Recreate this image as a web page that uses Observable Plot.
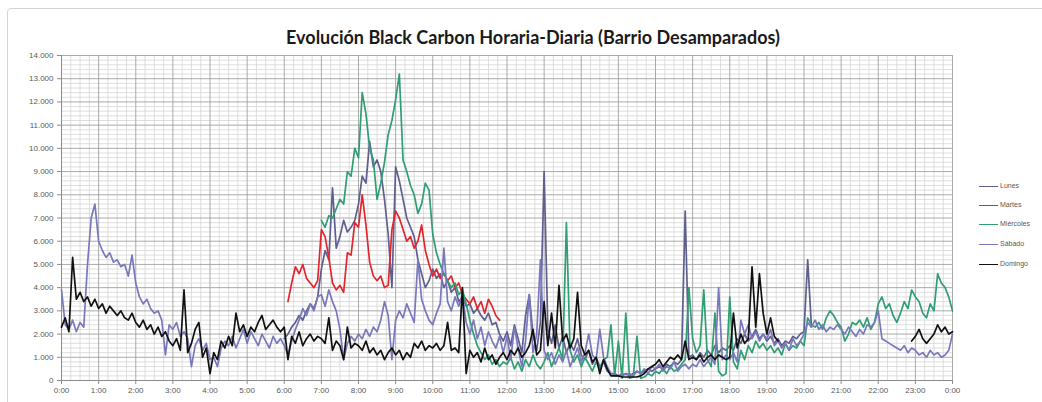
<!DOCTYPE html>
<html>
<head>
<meta charset="utf-8">
<script src="https://cdn.jsdelivr.net/npm/d3@7"></script>
<script src="https://cdn.jsdelivr.net/npm/@observablehq/plot@0.6"></script>
<style>
  html, body { margin: 0; padding: 0; background: #fff; }
  #wrap { position: relative; width: 1042px; height: 402px; overflow: hidden; background: #fff; }
  #frame { position: absolute; left: 7px; top: 8px; width: 1080px; height: 430px; border: 1px solid #d4d4d4; border-radius: 4px; box-sizing: border-box; }
  #title { position: absolute; left: 24px; top: 0; width: 1018px; height: 48px; text-align: center;
           font-family: Lato, "Open Sans", sans-serif; font-weight: 700; font-size: 18px; line-height: 22px;
           padding-top: 26px; box-sizing: border-box; color: #1a1a1a; }
  #chart { position: absolute; left: 0; top: 48px; }
  #legend { position: absolute; left: 979px; top: 0; font-family: "Liberation Sans", Arial, sans-serif; font-size: 7px; color: #595959; }
  .item { position: absolute; left: 0; white-space: nowrap; height: 10px; line-height: 10px; }
  .item span.sw { display: inline-block; width: 19px; height: 0; border-top: 1.5px solid; vertical-align: middle; margin-right: 2px; }
</style>
</head>
<body>
<div id="wrap">
  <div id="frame"></div>
  <div id="title">Evolución Black Carbon Horaria-Diaria (Barrio Desamparados)</div>
  <div id="chart"></div>
  <div id="legend"></div>
</div>
<script>
// ---- Data: Black Carbon readings, one value every 6 minutes (10 per hour) ----
const seriesNames = ["Lunes", "Martes", "Miércoles", "Sábado", "Domingo"];
const seriesColors = ["#5f5f8f", "#e3262e", "#2f9e72", "#7a78bd", "#111111"];
const stepHours = 0.1;

const lunesStart = 6.0;
const lunes = [
  1800, 2000, 2300, 2500, 2800, 2600, 3000, 3300, 3100, 3600,
  4800, 5600, 5200, 8300, 5700, 6200, 6900, 6400, 6600, 6900,
  7600, 8800, 8500, 10300, 9200, 9500, 9000, 7800, 6300, 4000,
  9200, 8600, 7800, 7000, 6600, 6200, 5200, 4600, 4000, 4300,
  4800, 4400, 4600, 4000, 4300, 3800, 4000, 3400, 3600, 3200,
  3300, 2900, 3100, 2800, 2600, 2900, 2400, 2500, 2000, 1700,
  2100, 1500, 2400, 1800, 1200, 2800, 3700, 2000, 1300, 2500,
  9000, 2200, 1600, 2400, 1400, 1900, 1200, 1600, 1300, 1800,
  1100, 900, 1300, 700, 1000, 600, 800, 400, 300, 300,
  200, 200, 300, 200, 300, 400, 300, 400, 500, 400,
  500, 600, 500, 700, 600, 800, 700, 900, 7300, 1000,
  1100, 900, 1200, 1000, 1300, 1100, 1500, 1200, 1400, 1300,
  1500, 1300, 1800, 1600, 2000, 1700, 1900, 2200, 1800, 2000,
  1700, 1900, 1600, 1800, 1500, 1700, 1600, 1900, 1800, 2000,
  2100, 5200, 2300
];

const martesStart = 6.1;
const martes = [
  3400, 4200, 4900, 4600, 5000, 4400, 4200, 4000, 4300,
  6500, 6200, 5300, 4200, 3900, 4100, 3800, 5500, 5400, 6800,
  6600, 8000, 6700, 5100, 4500, 4300, 4500, 4000, 4100, 6500,
  7300, 7000, 6500, 6000, 6200, 5700, 6000, 6700, 5600, 5000,
  4500, 4800, 4400, 4600, 4300, 4500, 4000, 4200, 3700, 3500,
  3300, 3600, 3100, 3400, 2900, 3500, 3200, 2800, 2600
];

const miercolesStart = 7.0;
const miercoles = [
  6900, 6600, 7100, 7000, 7400, 7800, 7600, 9000, 8800, 10000,
  9600, 12400, 11500, 10000, 9500, 7800, 8500, 9400, 10600, 11200,
  12100, 13200, 9500, 9000, 8400, 8000, 7200, 7600, 8500, 8200,
  6300, 5500, 5000, 4600, 4300, 4000, 4200, 3700, 3900, 3300,
  2600, 2000, 1500, 1200, 900, 1100, 700, 900, 600, 800,
  700, 1000, 500, 800, 400, 900, 600, 1100, 700, 500,
  800, 1200, 600, 1000, 1400, 900, 6800, 1300, 800, 1100,
  600, 1000, 700, 400, 800, 500, 900, 1000, 2400, 200,
  1700, 100, 2900, 100, 150, 1900, 100, 150, 300, 200,
  400, 300, 500, 300, 600, 400, 500, 700, 900, 4000,
  1800, 1200, 1500, 3900, 900, 600, 2900, 400, 200, 300,
  3600, 800, 500, 1300, 900, 1500, 1200, 1700, 1400, 1600,
  1300, 1500, 1200, 1400, 1100, 1600, 1300, 1500, 1400, 1700,
  1500, 2700, 2400, 2300, 2500, 2200, 2700, 3000, 2800, 2500,
  2300, 1700, 2000, 2500, 2400, 2600, 2300, 2700, 2200, 2500,
  3300, 3600, 3100, 3300, 2800, 2500, 2900, 3400, 3100, 3900,
  3600, 3400, 2900, 2700, 3300, 3000, 4600, 4200, 4000, 3600,
  3000
];

const sabadoStart = 0.0;
const sabado = [
  3900, 2400, 2200, 2600, 2100, 2500, 2300, 5000, 7000, 7600,
  6000, 5600, 5300, 5500, 5100, 5200, 4900, 5000, 4500, 5400,
  4200, 3600, 3300, 3500, 3100, 2900, 3000, 2600, 1100, 2400,
  2200, 2500, 1900, 2100, 1800, 600, 1500, 1800, 1300, 1600,
  900, 1000, 600, 1400, 1700, 1500, 1900, 1400, 1800, 2200,
  1600, 2100, 1800, 1500, 2000, 1700, 1400, 1900, 1600, 1800,
  1500, 1100, 1700, 2200, 2600, 3100, 2800, 3300, 3000, 3600,
  3700, 3200, 3900, 3400, 3000, 2200, 900, 1600, 1900, 1700,
  2000, 1800, 2200, 1900, 2300, 2100, 2600, 3400, 2800, 900,
  2600, 3000, 2700, 3300, 2900, 2500, 5200, 3500, 3000, 2600,
  2400, 2900, 3300, 5700, 3400, 3000, 3600, 3200, 3700, 2500,
  2000, 2600, 1800, 2300, 1500, 2100, 1700, 1400, 1900, 1200,
  1900, 900, 2300, 1400, 600, 1700, 3700, 1200, 2000, 5200,
  1300, 900, 1200, 700, 1100, 800, 1300, 600, 1000, 1400,
  800, 1200, 2000, 1100, 900, 2200, 1000, 600, 300, 200,
  200, 300, 250, 300, 200, 400, 300, 500, 300, 600,
  500, 700, 400, 600, 500, 800, 400, 600, 700, 500,
  700, 600, 900, 600, 800, 1000, 700, 4000, 900, 1100,
  900, 1200, 800, 2600, 2000, 2400, 1800, 2100, 1700, 2000,
  1800, 2200, 1500, 1700, 1400, 1600, 1300, 1800, 1500, 1700,
  2000, 2500, 2300, 2600, 2200, 2400, 2100, 2300, 2200, 2400,
  2200, 2000, 2300, 2100, 1900, 2200, 2000, 2400, 2300, 2500,
  3000, 1800, 1700, 1600, 1500, 1400, 1300, 1500, 1200, 1400,
  1300, 1100, 1200, 1000, 1300, 1100, 1200, 1000, 1100, 1300,
  2000
];

const domingoStart = 0.0;
const domingo = [
  2300, 2700, 2100, 5300, 3500, 3800, 3400, 3600, 3200, 3500,
  3100, 3300, 2900, 3200, 3000, 2800, 3000, 2700, 2600, 2900,
  2500, 2300, 2600, 2200, 2400, 2000, 2300, 1900, 2100, 1700,
  1500, 1800, 1300, 3900, 1200, 1600, 2200, 2500, 1000, 1400,
  300, 1200, 900, 1700, 1400, 1900, 1500, 2900, 2100, 2400,
  1900, 2300, 2100, 2500, 2800, 2200, 2400, 2600, 2300, 2100,
  2300, 900, 1900, 1600, 2100, 1500, 1800, 2000, 1700, 1900,
  1800, 1600, 2700, 1300, 1700, 1500, 900, 2300, 1400, 1600,
  1500, 1300, 1700, 1200, 1400, 1100, 1300, 900, 1200, 1400,
  1100, 1300, 900, 1200, 1000, 1600, 1400, 1700, 1300, 1500,
  1400, 1600, 1300, 1500, 2500, 1300, 1400, 1200, 4000, 300,
  1300, 1000, 1200, 800, 1400, 900, 1100, 700, 1000, 1200,
  900, 1300, 1100, 1400, 1000, 1200, 1500, 2200, 1100, 1300,
  3400, 1500, 2900, 1400, 4100, 1700, 2000, 1400, 1800, 3800,
  1500, 1100, 1300, 800, 1000, 300, 900, 500, 200, 200,
  200, 150, 150, 150, 150, 150, 200, 300, 500, 600,
  700, 900, 600, 800, 1000, 900, 1100, 900, 1700, 900,
  1000, 900, 1100, 800, 1000, 1100, 900, 1100, 1000, 900,
  1000, 2900, 1400, 2000, 1600, 1800, 4900, 2300, 4600, 2900,
  2000, 2700, 1900, 1700, null, null, null, null, null, null,
  null, null, null, null, null, null, null, null, null, null,
  null, null, null, null, null, null, null, null, null, null,
  null, null, null, null, null, null, null, null, null, 1700,
  1900, 2200, 1800, 1600, 1800, 2000, 2400, 2100, 2300, 2000,
  2100
];

// Axis ticks
const hourTicks = d3.range(0, 25, 1);
const hourLabels = ["0:00","1:00","2:00","3:00","4:00","5:00","6:00","7:00","8:00","9:00","10:00","11:00","12:00",
                    "13:00","14:00","15:00","16:00","17:00","18:00","19:00","20:00","21:00","22:00","23:00","0:00"];
const yTicks = d3.range(0, 14001, 1000);
const yLabels = ["0","1.000","2.000","3.000","4.000","5.000","6.000","7.000","8.000","9.000","10.000","11.000","12.000","13.000","14.000"];

// ---- Build tables ----
const seriesData = [
  [lunesStart, lunes], [martesStart, martes], [miercolesStart, miercoles], [sabadoStart, sabado], [domingoStart, domingo]
].map(([start, vals], k) => vals.map((v, i) => ({ t: start + i * stepHours, v, s: seriesNames[k] })));

const minorX = d3.range(0, 24.001, 0.25).filter(t => Math.abs(t - Math.round(t)) > 1e-6);
const minorY = d3.range(0, 14001, 200).filter(v => v % 1000 !== 0);

const chart = Plot.plot({
  width: 1042,
  height: 354,
  marginLeft: 61,
  marginRight: 90,
  marginTop: 7,
  marginBottom: 22,
  style: { fontFamily: "'Liberation Sans', Arial, sans-serif", fontSize: "8px", color: "#595959", background: "transparent" },
  x: { domain: [0, 24], label: null },
  y: { domain: [0, 14000], label: null },
  marks: [
    Plot.ruleX(minorX, { stroke: "#d6d6d6", strokeWidth: 0.8 }),
    Plot.ruleY(minorY, { stroke: "#d6d6d6", strokeWidth: 0.8 }),
    Plot.ruleX(hourTicks, { stroke: "#a0a0a0", strokeWidth: 0.9 }),
    Plot.ruleY(yTicks, { stroke: "#a0a0a0", strokeWidth: 0.9 }),
    Plot.axisX({ ticks: hourTicks, tickFormat: (d, i) => hourLabels[i], tickSize: 4, tickPadding: 3, stroke: "#8c8c8c", label: null }),
    Plot.axisY({ ticks: yTicks, tickFormat: (d, i) => yLabels[i], tickSize: 4, tickPadding: 4, stroke: "#8c8c8c", label: null }),
    Plot.ruleX([0], { stroke: "#8c8c8c" }),
    Plot.ruleY([0], { stroke: "#8c8c8c" }),
    ...seriesData.map((d, k) => Plot.line(d, { x: "t", y: "v", stroke: seriesColors[k], strokeWidth: 1.7 }))
  ]
});
document.getElementById("chart").appendChild(chart);

// Legend
const legend = document.getElementById("legend");
const legendTops = [181, 200, 219, 239, 259];
seriesNames.forEach((name, k) => {
  const div = document.createElement("div");
  div.className = "item";
  div.style.top = legendTops[k] + "px";
  div.innerHTML = `<span class="sw" style="border-color:${seriesColors[k]}"></span>${name}`;
  legend.appendChild(div);
});
</script>
</body>
</html>
